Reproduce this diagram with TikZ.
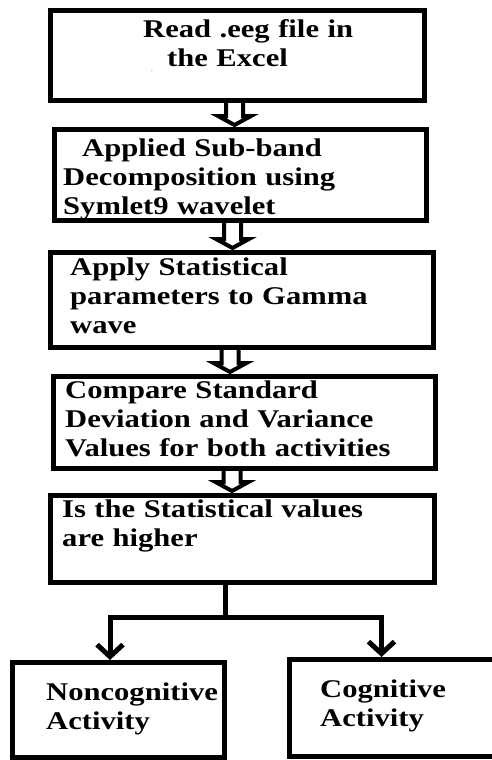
\documentclass[tikz,border=0pt]{standalone}
\usepackage{fontspec}
\newfontfamily\flowfont{Liberation Serif}[FakeStretch=1.2]
\usetikzlibrary{calc,arrows.meta}

% hollow block arrow: from node, to node, x position
\newcommand{\hollowarrow}[3]{%
  \path (#1.south -| #3,0) coordinate (ha) (#2.north -| #3,0) coordinate (hb);
  \draw [hollow] ($(ha)+(-8.5,-2)$) -- ($(hb)+(-8.5,-11)$) -- ($(hb)+(-16.5,-11)$) -- ($(hb)+(0,-2)$) -- ($(hb)+(16.5,-11)$) -- ($(hb)+(8.5,-11)$) -- ($(ha)+(8.5,-2)$) ;
}

\begin{document}
\begin{tikzpicture}[x=1pt,y=1pt,yscale=-1,xscale=1,
  box/.style={draw, line width=5, inner sep=0},
  txt/.style={anchor=base west, inner sep=0, text width=400, align=left,
    font=\flowfont\bfseries\fontsize{25.5}{29}\selectfont},
  hollow/.style={line width=4, miter limit=10},
  link/.style={line width=5}]
\useasboundingbox (0,0) rectangle (492,760);

%Shape: Rectangle [read]
\draw (237.5,55.5) node [box, minimum width=374, minimum height=90] (read) {} ;
%Shape: Rectangle [decomp]
\draw (240.5,175) node [box, minimum width=372, minimum height=91] (decomp) {} ;
%Shape: Rectangle [stats]
\draw (242,300) node [box, minimum width=383, minimum height=95] (stats) {} ;
%Shape: Rectangle [compare]
\draw (244.5,422.5) node [box, minimum width=382, minimum height=92] (compare) {} ;
%Shape: Rectangle [decide]
\draw (242.5,539) node [box, minimum width=384, minimum height=87] (decide) {} ;
%Shape: Rectangle [noncog]
\draw (118.5,710) node [box, minimum width=212, minimum height=95] (noncog) {} ;
%Shape: Rectangle [cog]
\draw (395.5,708) node [box, minimum width=212, minimum height=97] (cog) {} ;

%Block arrows
\hollowarrow{read}{decomp}{234.5}
\hollowarrow{decomp}{stats}{232.5}
\hollowarrow{stats}{compare}{230}
\hollowarrow{compare}{decide}{232}

%Branch lines
\coordinate (split) at (225,617) ;
\draw [link] (decide.south -| split) -- (split) ;
\draw [link, -{Straight Barb[length=12pt, width=26pt]}] (split) -| ([xshift=-8.5]noncog.north) ;
\draw [link, -{Straight Barb[length=12pt, width=26pt]}] (split) -| ([xshift=-14]cog.north) ;

% Text Node
\draw (143,37.3) node [txt] (readtxt) {Read .eeg file in\\\hspace*{24pt}the Excel};
% Text Node
\draw (152,71) node [inner sep=0, font=\flowfont\fontsize{6}{6}\selectfont] (dot) {.};
% Text Node
\draw (63,156) node [txt] (decomptxt) {\hspace*{19pt}Applied Sub-band\\Decomposition using\\Symlet9 wavelet};
% Text Node
\draw (70,275) node [txt] (statstxt) {Apply Statistical\\parameters to Gamma\\wave};
% Text Node
\draw (65,398) node [txt] (comparetxt) {Compare Standard\\Deviation and Variance\\Values for both activities};
% Text Node
\draw (62,517) node [txt] (decidetxt) {Is the Statistical values\\are higher};
% Text Node
\draw (46,700) node [txt] (noncogtxt) {Noncognitive\\Activity};
% Text Node
\draw (320,697) node [txt] (cogtxt) {Cognitive\\Activity};

\end{tikzpicture}
\end{document}
